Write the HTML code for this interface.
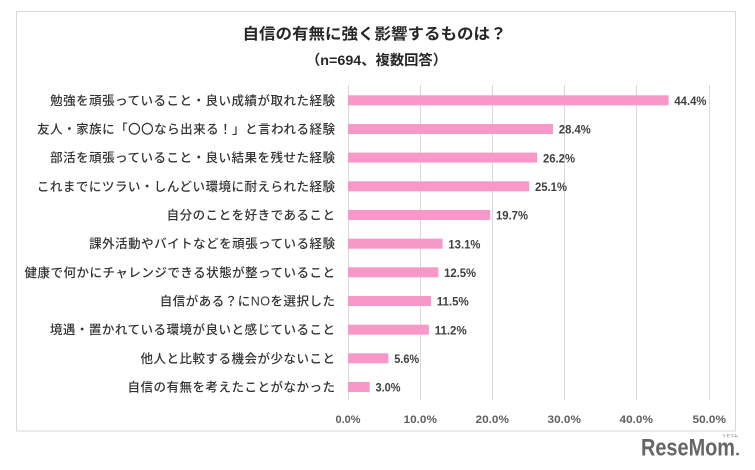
<!DOCTYPE html>
<html>
<head>
<meta charset="utf-8">
<style>
  html, body { margin:0; padding:0; background:#ffffff; }
  svg { display:block; }
  .jp { font-family: "Liberation Sans", "Noto Sans CJK JP", sans-serif; }
  .lbl { font-size:12.5px; fill:#333333; letter-spacing:0.5px; font-weight:500; }
  .val { font-family:"Liberation Sans", sans-serif; font-size:12px; font-weight:bold; fill:#404040; }
  .tick { font-family:"Liberation Sans", sans-serif; font-size:11px; font-weight:bold; fill:#5f5f5f; }
</style>
</head>
<body>
<svg width="755" height="470" viewBox="0 0 755 470" xmlns="http://www.w3.org/2000/svg">
  <rect x="0" y="0" width="755" height="470" fill="#ffffff"/>
  <!-- frame -->
  <rect x="16.5" y="11.5" width="719" height="419.5" fill="#ffffff" stroke="#d9d9d9" stroke-width="1"/>

  <!-- title -->
  <text class="jp" x="242.5" y="39" font-size="15.5" font-weight="bold" fill="#262626" textLength="264" lengthAdjust="spacingAndGlyphs">自信の有無に強く影響するものは？</text>
  <text class="jp" x="306" y="65" font-size="14" font-weight="bold" fill="#262626" textLength="141" lengthAdjust="spacingAndGlyphs">（n=694、複数回答）</text>

  <!-- gridlines -->
  <g stroke="#d9d9d9" stroke-width="1">
    <line x1="348.5" y1="85" x2="348.5" y2="400"/>
    <line x1="420.5" y1="85" x2="420.5" y2="400"/>
    <line x1="492.5" y1="85" x2="492.5" y2="400"/>
    <line x1="564.5" y1="85" x2="564.5" y2="400"/>
    <line x1="636.5" y1="85" x2="636.5" y2="400"/>
    <line x1="709.5" y1="85" x2="709.5" y2="400"/>
  </g>

  <!-- bars -->
  <g fill="#f898c8">
    <rect x="348" y="95.3"  width="320.6" height="10"/>
    <rect x="348" y="124.0" width="205.0" height="10"/>
    <rect x="348" y="152.6" width="189.2" height="10"/>
    <rect x="348" y="181.3" width="181.2" height="10"/>
    <rect x="348" y="210.0" width="142.2" height="10"/>
    <rect x="348" y="238.7" width="94.6"  height="10"/>
    <rect x="348" y="267.3" width="90.3"  height="10"/>
    <rect x="348" y="296.0" width="83.0"  height="10"/>
    <rect x="348" y="324.7" width="80.9"  height="10"/>
    <rect x="348" y="353.3" width="40.4"  height="10"/>
    <rect x="348" y="382.0" width="21.7"  height="10"/>
  </g>

  <!-- values -->
  <g class="val">
    <text x="674.4" y="105.0" textLength="32" lengthAdjust="spacingAndGlyphs">44.4%</text>
    <text x="558.8" y="133.7" textLength="32" lengthAdjust="spacingAndGlyphs">28.4%</text>
    <text x="543.0" y="162.3" textLength="32" lengthAdjust="spacingAndGlyphs">26.2%</text>
    <text x="535.0" y="191.0" textLength="32" lengthAdjust="spacingAndGlyphs">25.1%</text>
    <text x="496.0" y="219.7" textLength="32" lengthAdjust="spacingAndGlyphs">19.7%</text>
    <text x="448.4" y="248.4" textLength="32" lengthAdjust="spacingAndGlyphs">13.1%</text>
    <text x="444.1" y="277.0" textLength="32" lengthAdjust="spacingAndGlyphs">12.5%</text>
    <text x="436.8" y="305.7" textLength="32" lengthAdjust="spacingAndGlyphs">11.5%</text>
    <text x="434.7" y="334.4" textLength="32" lengthAdjust="spacingAndGlyphs">11.2%</text>
    <text x="394.2" y="363.0" textLength="25" lengthAdjust="spacingAndGlyphs">5.6%</text>
    <text x="375.5" y="391.7" textLength="25" lengthAdjust="spacingAndGlyphs">3.0%</text>
  </g>

  <!-- category labels -->
  <g class="jp lbl" text-anchor="end">
    <text x="335.5" y="104.8">勉強を頑張っていること・良い成績が取れた経験</text>
    <text x="335.5" y="133.5">友人・家族に「〇〇なら出来る！」と言われる経験</text>
    <text x="335.5" y="162.1">部活を頑張っていること・良い結果を残せた経験</text>
    <text x="335.5" y="190.8">これまでにツラい・しんどい環境に耐えられた経験</text>
    <text x="335.5" y="219.5">自分のことを好きであること</text>
    <text x="335.5" y="248.2">課外活動やバイトなどを頑張っている経験</text>
    <text x="335.5" y="276.8">健康で何かにチャレンジできる状態が整っていること</text>
    <text x="335.5" y="305.5">自信がある？にNOを選択した</text>
    <text x="335.5" y="334.2">境遇・置かれている環境が良いと感じていること</text>
    <text x="335.5" y="362.8">他人と比較する機会が少ないこと</text>
    <text x="335.5" y="391.5">自信の有無を考えたことがなかった</text>
  </g>

  <!-- axis tick labels -->
  <g class="tick">
    <text x="335.5" y="423" textLength="25" lengthAdjust="spacingAndGlyphs">0.0%</text>
    <text x="403.5" y="423" textLength="33.5" lengthAdjust="spacingAndGlyphs">10.0%</text>
    <text x="475.5" y="423" textLength="33.5" lengthAdjust="spacingAndGlyphs">20.0%</text>
    <text x="547.5" y="423" textLength="33.5" lengthAdjust="spacingAndGlyphs">30.0%</text>
    <text x="619.5" y="423" textLength="33.5" lengthAdjust="spacingAndGlyphs">40.0%</text>
    <text x="692.5" y="423" textLength="33.5" lengthAdjust="spacingAndGlyphs">50.0%</text>
  </g>

  <!-- logo -->
  <text x="641" y="455.5" font-family="Liberation Sans, sans-serif" font-size="24" font-weight="bold" fill="#666666" textLength="94" lengthAdjust="spacingAndGlyphs">ReseMom</text>
  <circle cx="737.5" cy="454" r="1.4" fill="#666666"/>
  <text class="jp" x="722" y="437" font-size="4" fill="#6e6e6e">リセマム</text>
</svg>
</body>
</html>
